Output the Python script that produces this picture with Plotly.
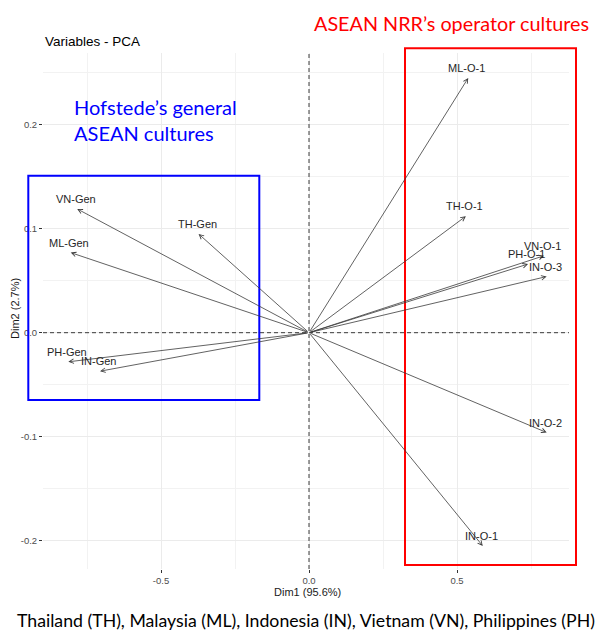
import plotly.graph_objects as go

# PCA variable coordinates (Dim1, Dim2)
variables = ["ML-O-1", "TH-O-1", "VN-O-1", "PH-O-1", "IN-O-3", "IN-O-2", "IN-O-1",
             "VN-Gen", "TH-Gen", "ML-Gen", "PH-Gen", "IN-Gen"]
dim1 = [0.538, 0.530, 0.794, 0.740, 0.803, 0.803, 0.587,
        -0.783, -0.373, -0.805, -0.813, -0.706]
dim2 = [0.245, 0.112, 0.074, 0.066, 0.054, -0.096, -0.205,
        0.119, 0.095, 0.077, -0.028, -0.037]

x_tickvals = [-0.5, 0.0, 0.5]
x_ticktext = ["-0.5", "0.0", "0.5"]
y_tickvals = [-0.2, -0.1, 0.0, 0.1, 0.2]
y_ticktext = ["-0.2", "-0.1", "0.0", "0.1", "0.2"]
x_minor = [-0.75, -0.25, 0.25, 0.75]
y_minor = [-0.15, -0.05, 0.05, 0.15, 0.25]

W, H = 597, 632
L, R, T, B = 43, 28, 53, 63
PW, PH = W - L - R, H - T - B


def px_x(p):
    return (p - L) / PW


def px_y(p):
    return (H - B - p) / PH


fig = go.Figure()

# invisible points at the arrow tips (hover info)
fig.add_trace(go.Scatter(
    x=dim1, y=dim2, mode="markers", text=variables,
    marker=dict(size=1, color="rgba(0,0,0,0)"),
    hovertemplate="%{text}<br>Dim1: %{x:.3f}<br>Dim2: %{y:.3f}<extra></extra>",
    showlegend=False,
))

annotations = []
for name, x, y in zip(variables, dim1, dim2):
    # arrow from the origin to the variable coordinate
    annotations.append(dict(
        x=x, y=y, ax=0, ay=0, xref="x", yref="y", axref="x", ayref="y",
        text="", showarrow=True, arrowhead=5, arrowsize=1.1, arrowwidth=0.8,
        arrowcolor="#3a3a3a", standoff=0, startstandoff=0,
    ))
    annotations.append(dict(
        x=x, y=y, xref="x", yref="y", text=name, showarrow=False,
        yshift=10, xshift=-1.5,
        font=dict(family="Liberation Sans, Arial", size=11, color="#262626"),
    ))

text_font = "Lato, Noto Sans, sans-serif"
annotations += [
    dict(x=px_x(43), y=px_y(42), xref="paper", yref="paper", xanchor="left",
         yanchor="middle", text="Variables - PCA", showarrow=False,
         font=dict(family="Liberation Sans, Arial", size=13.5, color="#000")),
    dict(x=px_x(307), y=px_y(592), xref="paper", yref="paper", xanchor="center",
         yanchor="middle", text="Dim1 (95.6%)", showarrow=False,
         font=dict(family="Liberation Sans, Arial", size=11, color="#1a1a1a")),
    dict(x=px_x(15), y=px_y(309), xref="paper", yref="paper", xanchor="center",
         yanchor="middle", text="Dim2 (2.7%)", showarrow=False, textangle=-90,
         font=dict(family="Liberation Sans, Arial", size=11, color="#1a1a1a")),
    dict(x=px_x(72), y=px_y(120), xref="paper", yref="paper", xanchor="left",
         yanchor="middle", align="left",
         text="Hofstede’s general<br>ASEAN cultures", showarrow=False,
         font=dict(family=text_font, size=20, color="#0000FF")),
    dict(x=px_x(312), y=px_y(23), xref="paper", yref="paper", xanchor="left",
         yanchor="middle", text="ASEAN NRR’s operator cultures", showarrow=False,
         font=dict(family=text_font, size=19.8, color="#FF0000")),
    dict(x=px_x(306), y=px_y(620), xref="paper", yref="paper", xanchor="center",
         yanchor="middle",
         text="Thailand (TH), Malaysia (ML), Indonesia (IN), Vietnam (VN), Philippines (PH)",
         showarrow=False,
         font=dict(family=text_font, size=17.7, color="#000")),
]

shapes = [
    # dashed reference lines through the origin
    dict(type="line", xref="x", yref="paper", x0=0, x1=0, y0=0, y1=1,
         line=dict(color="#3a3a3a", width=1, dash="4px,3px"), layer="above"),
    dict(type="line", xref="paper", yref="y", x0=0, x1=1, y0=0, y1=0,
         line=dict(color="#3a3a3a", width=1, dash="4px,3px"), layer="above"),
    # group frames
    dict(type="rect", xref="paper", yref="paper",
         x0=px_x(28.3), x1=px_x(259.3), y0=px_y(400), y1=px_y(175.7),
         line=dict(color="#0000FF", width=2), fillcolor="rgba(0,0,0,0)"),
    dict(type="rect", xref="paper", yref="paper",
         x0=px_x(405), x1=px_x(576), y0=px_y(565), y1=px_y(48.3),
         line=dict(color="#FF0000", width=2), fillcolor="rgba(0,0,0,0)"),
]

axis_common = dict(
    showgrid=True, gridcolor="#EBEBEB", gridwidth=1.1,
    zeroline=False, showline=False,
    ticks="outside", ticklen=3, tickwidth=1, tickcolor="#333333",
    tickfont=dict(family="Liberation Sans, Arial", size=9.5, color="#4D4D4D"),
)

fig.update_layout(
    width=W, height=H,
    margin=dict(l=L, r=R, t=T, b=B, pad=0),
    plot_bgcolor="white", paper_bgcolor="white",
    xaxis=dict(range=[(L - 309) / 296, (W - R - 309) / 296],
               tickvals=x_tickvals, ticktext=x_ticktext,
               minor=dict(tickvals=x_minor, showgrid=True, gridcolor="#F2F2F2",
                          gridwidth=0.6, ticks=""),
               **axis_common),
    yaxis=dict(range=[(332.7 - (H - B)) / 1040, (332.7 - T) / 1040],
               tickvals=y_tickvals, ticktext=y_ticktext,
               minor=dict(tickvals=y_minor, showgrid=True, gridcolor="#F2F2F2",
                          gridwidth=0.6, ticks=""),
               **axis_common),
    annotations=annotations,
    shapes=shapes,
    showlegend=False,
)

fig.write_html("out.html")
